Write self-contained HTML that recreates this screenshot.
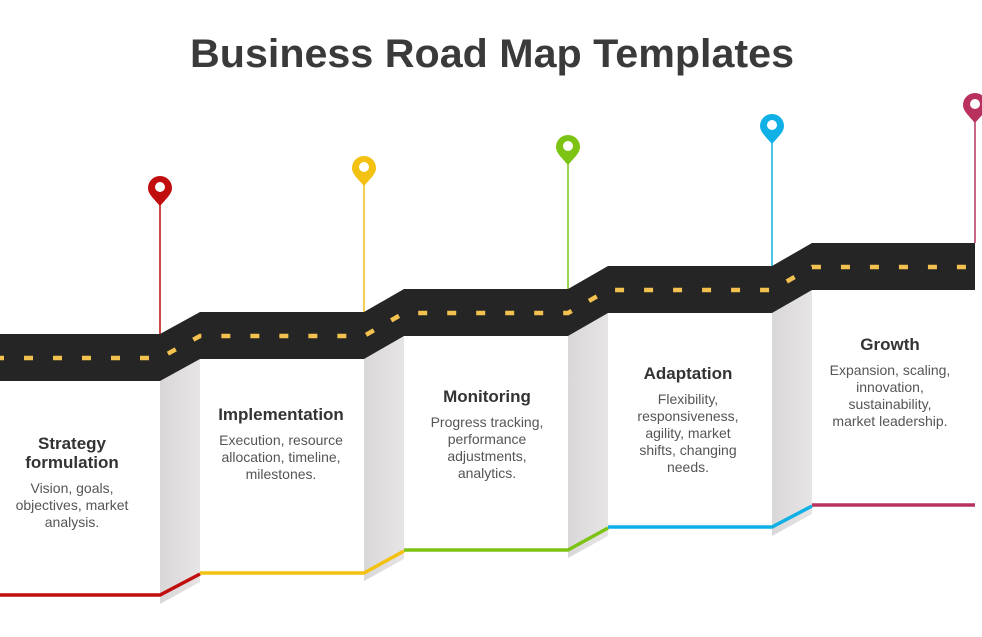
<!DOCTYPE html>
<html><head><meta charset="utf-8"><style>html,body{margin:0;padding:0;background:#fff}svg{display:block}</style></head>
<body>
<svg width="982" height="637" viewBox="0 0 982 637" xmlns="http://www.w3.org/2000/svg" font-family="Liberation Sans, sans-serif">
<defs>
<linearGradient id="g" x1="0" y1="0" x2="1" y2="0"><stop offset="0" stop-color="#d9d7d7"/><stop offset="1" stop-color="#e6e4e4"/></linearGradient>
</defs>
<text x="492" y="67" text-anchor="middle" font-size="40" font-weight="bold" fill="#3a3a3a" textLength="604" lengthAdjust="spacingAndGlyphs">Business Road Map Templates</text>

<!-- gray side panels -->
<polygon points="160,381 200,359 200,582 160,604" fill="url(#g)"/>
<polygon points="364,359 404,336 404,559 364,581" fill="url(#g)"/>
<polygon points="568,336 608,313 608,536 568,558" fill="url(#g)"/>
<polygon points="772,313 812,290 812,514 772,536" fill="url(#g)"/>

<!-- bottom lines -->
<g stroke-width="3.5" fill="none">
<polyline points="0,595 160,595 200,574" stroke="#c00d0d"/>
<polyline points="200,573 364,573 404,551" stroke="#f2c112"/>
<polyline points="404,550 568,550 608,528" stroke="#7cc313"/>
<polyline points="608,527 772,527 812,506" stroke="#0fb0e6"/>
<polyline points="812,505 975,505" stroke="#b9325e"/>
</g>

<!-- pin lines -->
<g stroke-width="1.5">
<line x1="160" y1="200" x2="160" y2="334" stroke="#c00d0d"/>
<line x1="364" y1="180" x2="364" y2="312" stroke="#f2c112"/>
<line x1="568" y1="159" x2="568" y2="289" stroke="#7cc313"/>
<line x1="772" y1="138" x2="772" y2="266" stroke="#0fb0e6"/>
<line x1="975" y1="117" x2="975" y2="243" stroke="#b9325e"/>
</g>

<!-- road -->
<polygon points="0,334 160,334 200,312 364,312 404,289 568,289 608,266 772,266 812,243 975,243 975,290 812,290 772,313 608,313 568,336 404,336 364,359 200,359 160,381 0,381" fill="#252525"/>
<polyline points="0,358 160,358 200,336 364,336 404,313 568,313 608,290 772,290 812,267 975,267" fill="none" stroke="#f3c14f" stroke-width="4.5" stroke-dasharray="9,20" stroke-dashoffset="5"/>

<!-- pins -->
<g>
<path d="M148,188 a12,12 0 1,1 24,0 c0,6 -6,11 -12,18 c-6,-7 -12,-12 -12,-18z" fill="#c00d0d"/><circle cx="160" cy="187" r="5" fill="#fff"/>
<path d="M352,168 a12,12 0 1,1 24,0 c0,6 -6,11 -12,18 c-6,-7 -12,-12 -12,-18z" fill="#f2c112"/><circle cx="364" cy="167" r="5" fill="#fff"/>
<path d="M556,147 a12,12 0 1,1 24,0 c0,6 -6,11 -12,18 c-6,-7 -12,-12 -12,-18z" fill="#7cc313"/><circle cx="568" cy="146" r="5" fill="#fff"/>
<path d="M760,126 a12,12 0 1,1 24,0 c0,6 -6,11 -12,18 c-6,-7 -12,-12 -12,-18z" fill="#0fb0e6"/><circle cx="772" cy="125" r="5" fill="#fff"/>
<path d="M963,105 a12,12 0 1,1 24,0 c0,6 -6,11 -12,18 c-6,-7 -12,-12 -12,-18z" fill="#b9325e"/><circle cx="975" cy="104" r="5" fill="#fff"/>
</g>

<!-- texts -->
<g text-anchor="middle">
<g font-size="17" font-weight="bold" fill="#333">
<text x="72" y="449">Strategy</text>
<text x="72" y="468">formulation</text>
<text x="281" y="420">Implementation</text>
<text x="487" y="402">Monitoring</text>
<text x="688" y="379">Adaptation</text>
<text x="890" y="350">Growth</text>
</g>
<g font-size="14" fill="#555">
<text x="72" y="493">Vision, goals,</text>
<text x="72" y="510">objectives, market</text>
<text x="72" y="527">analysis.</text>
<text x="281" y="445">Execution, resource</text>
<text x="281" y="462">allocation, timeline,</text>
<text x="281" y="479">milestones.</text>
<text x="487" y="427">Progress tracking,</text>
<text x="487" y="444">performance</text>
<text x="487" y="461">adjustments,</text>
<text x="487" y="478">analytics.</text>
<text x="688" y="404">Flexibility,</text>
<text x="688" y="421">responsiveness,</text>
<text x="688" y="438">agility, market</text>
<text x="688" y="455">shifts, changing</text>
<text x="688" y="472">needs.</text>
<text x="890" y="375">Expansion, scaling,</text>
<text x="890" y="392">innovation,</text>
<text x="890" y="409">sustainability,</text>
<text x="890" y="426">market leadership.</text>
</g>
</g>
</svg>
</body></html>
